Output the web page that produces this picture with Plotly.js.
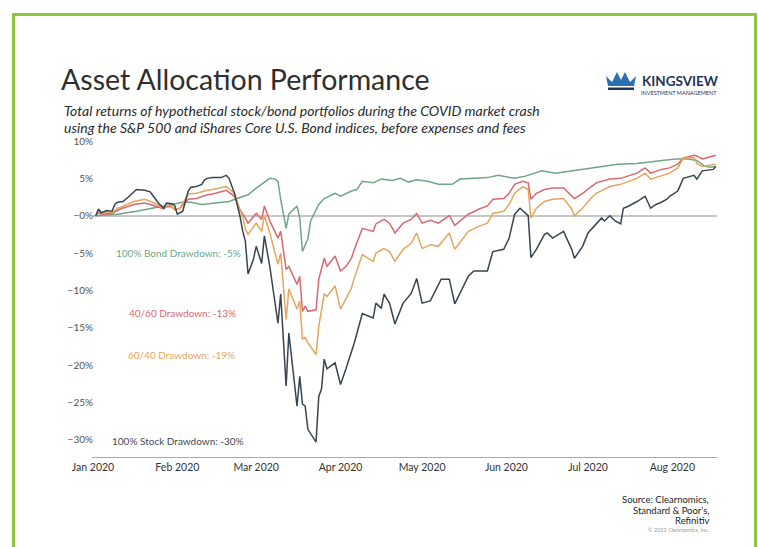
<!DOCTYPE html>
<html>
<head>
<meta charset="utf-8">
<script src="https://cdn.plot.ly/plotly-3.0.1.min.js"></script>
<style>
  html, body { margin: 0; padding: 0; background: #ffffff; }
  #chart { width: 758px; height: 547px; }
</style>
</head>
<body>
<div id="chart"></div>
<script>
// ---------- DATA ----------
const bondDates = ['2020-01-02','2020-01-10','2020-01-17','2020-01-23','2020-01-29','2020-02-03','2020-02-06','2020-02-10','2020-02-15','2020-02-20','2020-02-23','2020-02-27','2020-03-01','2020-03-03','2020-03-06','2020-03-08','2020-03-09','2020-03-10','2020-03-12','2020-03-13','2020-03-16','2020-03-17','2020-03-18','2020-03-20','2020-03-21','2020-03-24','2020-03-26','2020-03-30','2020-04-01','2020-04-05','2020-04-07','2020-04-09','2020-04-13','2020-04-16','2020-04-20','2020-04-23','2020-04-26','2020-04-29','2020-05-03','2020-05-07','2020-05-12','2020-05-15','2020-05-20','2020-05-25','2020-05-29','2020-06-02','2020-06-04','2020-06-08','2020-06-10','2020-06-14','2020-06-19','2020-06-25','2020-07-04','2020-07-12','2020-07-19','2020-07-26','2020-08-02','2020-08-07','2020-08-10','2020-08-13','2020-08-15','2020-08-17'];
const bondValues = [0,0.2,0.6,1.0,1.5,1.8,1.8,1.5,1.7,1.9,2.3,2.8,3.7,4.2,5.0,4.9,4.6,2.2,-1.7,0.2,1.3,-0.3,-4.8,-3.1,-0.7,1.5,2.3,3.0,2.6,3.3,3.5,4.6,4.4,4.9,4.7,5.0,4.5,4.8,4.6,4.2,4.2,4.9,5.0,5.1,5.4,5.2,5.0,5.3,5.5,6.0,5.7,6.0,6.5,6.9,7.0,7.3,7.6,7.6,7.4,6.6,6.5,6.6];

const mixDates = ['2020-01-02','2020-01-03','2020-01-04','2020-01-06','2020-01-08','2020-01-10','2020-01-11','2020-01-16','2020-01-20','2020-01-23','2020-01-25','2020-01-27','2020-01-28','2020-01-30','2020-01-31','2020-02-02','2020-02-05','2020-02-08','2020-02-12','2020-02-14','2020-02-19','2020-02-22','2020-02-24','2020-02-25','2020-02-26','2020-02-27','2020-03-01','2020-03-03','2020-03-04','2020-03-06','2020-03-09','2020-03-10','2020-03-12','2020-03-13','2020-03-16','2020-03-17','2020-03-18','2020-03-19','2020-03-20','2020-03-23','2020-03-24','2020-03-26','2020-03-27','2020-03-30','2020-04-01','2020-04-03','2020-04-05','2020-04-06','2020-04-09','2020-04-13','2020-04-14','2020-04-17','2020-04-19','2020-04-21','2020-04-24','2020-04-27','2020-04-29','2020-05-01','2020-05-04','2020-05-07','2020-05-11','2020-05-13','2020-05-18','2020-05-22','2020-05-25','2020-05-27','2020-05-31','2020-06-02','2020-06-04','2020-06-07','2020-06-09','2020-06-10','2020-06-12','2020-06-15','2020-06-18','2020-06-22','2020-06-24','2020-06-25','2020-06-26','2020-06-29','2020-07-02','2020-07-04','2020-07-09','2020-07-13','2020-07-19','2020-07-22','2020-07-24','2020-07-28','2020-07-31','2020-08-03','2020-08-05','2020-08-09','2020-08-10','2020-08-12','2020-08-14','2020-08-17'];
const mix4060Values = [0,0.4,0.2,0.3,0.3,0.7,0.9,1.5,1.7,1.4,1.2,0.9,1.2,1.2,0.8,1.0,2.2,2.3,2.8,2.9,3.4,2.6,0.8,0.3,-0.3,-1.0,0.3,-0.5,1.3,-0.7,-3.0,-2.1,-7.2,-6.8,-9.2,-8.1,-12.8,-12.1,-12.8,-12.6,-8.5,-5.7,-6.8,-5.4,-7.4,-6.8,-5.7,-4.6,-1.7,-2.1,-1.1,-0.5,-1.0,-2.3,-1.0,-0.5,0.3,-1.0,-0.6,-1.0,0.0,-1.3,0.2,0.9,1.3,2.2,2.3,3.0,4.2,4.6,4.4,2.2,3.0,3.5,3.7,3.7,3.0,2.7,2.3,3.0,3.9,4.4,4.9,5.0,5.7,6.4,5.7,6.2,6.4,6.9,7.7,8.1,8.0,7.6,7.8,8.1];
const mix6040Values = [0,0.6,0.3,0.5,0.4,1.0,1.1,1.9,2.2,1.8,1.4,1.0,1.4,1.3,0.8,1.0,2.9,3.0,3.4,3.5,3.9,3.0,0.8,0.0,-1.8,-2.5,-1.0,-2.1,0.0,-2.3,-6.5,-5.0,-13.9,-9.8,-12.5,-11.4,-16.5,-16.3,-17.0,-18.6,-14.8,-10.5,-10.8,-9.4,-12.5,-11.2,-9.7,-8.4,-5.2,-6.1,-5.0,-4.4,-4.8,-6.1,-4.5,-3.7,-2.3,-4.4,-3.9,-4.1,-2.3,-4.5,-2.1,-1.4,-1.0,0.3,0.6,1.5,3.0,3.9,3.5,-0.3,1.0,1.9,2.2,2.3,1.3,0.9,0.0,1.0,2.3,3.0,3.9,4.2,5.0,5.7,4.9,5.3,5.7,6.4,7.7,7.8,7.0,6.6,6.7,6.9];

const stockDates = ['2020-01-02','2020-01-03','2020-01-04','2020-01-06','2020-01-08','2020-01-09','2020-01-10','2020-01-12','2020-01-14','2020-01-16','2020-01-17','2020-01-20','2020-01-22','2020-01-23','2020-01-25','2020-01-27','2020-01-28','2020-01-30','2020-01-31','2020-02-01','2020-02-03','2020-02-05','2020-02-06','2020-02-08','2020-02-10','2020-02-11','2020-02-12','2020-02-14','2020-02-17','2020-02-19','2020-02-20','2020-02-22','2020-02-24','2020-02-25','2020-02-26','2020-02-27','2020-02-29','2020-03-01','2020-03-03','2020-03-04','2020-03-06','2020-03-09','2020-03-10','2020-03-12','2020-03-13','2020-03-16','2020-03-17','2020-03-18','2020-03-19','2020-03-20','2020-03-23','2020-03-24','2020-03-25','2020-03-26','2020-03-27','2020-03-30','2020-04-01','2020-04-03','2020-04-05','2020-04-06','2020-04-09','2020-04-13','2020-04-14','2020-04-16','2020-04-17','2020-04-19','2020-04-21','2020-04-24','2020-04-27','2020-04-29','2020-05-01','2020-05-04','2020-05-08','2020-05-11','2020-05-13','2020-05-18','2020-05-20','2020-05-25','2020-05-27','2020-05-31','2020-06-02','2020-06-04','2020-06-06','2020-06-09','2020-06-10','2020-06-12','2020-06-15','2020-06-16','2020-06-18','2020-06-22','2020-06-24','2020-06-25','2020-06-26','2020-06-29','2020-07-01','2020-07-04','2020-07-06','2020-07-07','2020-07-09','2020-07-11','2020-07-13','2020-07-14','2020-07-16','2020-07-19','2020-07-22','2020-07-24','2020-07-26','2020-07-28','2020-07-30','2020-07-31','2020-08-03','2020-08-05','2020-08-09','2020-08-10','2020-08-12','2020-08-16','2020-08-17'];
const stockValues = [0,0.9,0.4,0.7,0.6,1.5,1.8,1.9,2.5,3.2,3.5,3.4,3.2,2.7,1.7,1.0,1.7,1.6,1.4,0.2,0.6,3.3,3.8,3.9,4.2,4.8,5.0,5.1,5.1,5.4,5.0,3.0,0.0,-2.0,-3.4,-7.8,-5.8,-4.1,-6.4,-2.7,-6.8,-14.4,-10.5,-22.8,-15.7,-25.5,-21.5,-25.2,-25.5,-28.6,-30.3,-24.2,-23.2,-19.2,-20.5,-19.7,-22.6,-20.5,-18.4,-17.1,-13.1,-13.7,-11.7,-12.4,-10.5,-11.7,-14.5,-11.7,-10.4,-8.4,-11.7,-11.4,-8.5,-8.5,-11.8,-8.1,-7.4,-7.4,-4.8,-4.5,-3.0,0.2,1.0,0.0,-5.6,-4.5,-2.5,-2.3,-3.0,-2.1,-3.7,-4.5,-5.7,-4.1,-2.3,-1.1,-0.3,-0.7,0.0,-0.7,-1.1,1.0,1.3,1.9,2.6,1.0,1.5,1.8,2.2,2.6,3.3,5.0,5.4,4.9,6.0,6.2,6.6];

const yTickVals = [10,5,0,-5,-10,-15,-20,-25,-30];
const yTickText = ['10%','5%','\u22120%','\u22125%','\u221210%','\u221215%','\u221220%','\u221225%','\u221230%'];
const xTickVals = ['2020-01-01','2020-02-01','2020-03-01','2020-04-01','2020-05-01','2020-06-01','2020-07-01','2020-08-01'];
const xTickText = ['Jan 2020','Feb 2020','Mar 2020','Apr 2020','May 2020','Jun 2020','Jul 2020','Aug 2020'];
const subtitleLines = ['Total returns of hypothetical stock/bond portfolios during the COVID market crash',
                       'using the S&amp;P 500 and iShares Core U.S. Bond indices, before expenses and fees'];

// ---------- STYLE ----------
const FONT = 'Lato, "Open Sans", sans-serif';
const C_BOND = '#6fa684', C_4060 = '#d9686f', C_6040 = '#e4a65e', C_STOCK = '#38444f';

// helpers converting pixel positions to paper coordinates (plot area 92..717 x, 141..457 y)
const L = 92, R = 717, T = 141, B = 457;
const px = v => (v - L) / (R - L);
const py = v => (B - v) / (B - T);

const traces = [
  {x: bondDates, y: bondValues, name: '100% Bond', mode: 'lines', line: {color: C_BOND, width: 1.5}},
  {x: mixDates, y: mix4060Values, name: '40/60', mode: 'lines', line: {color: C_4060, width: 1.5}},
  {x: mixDates, y: mix6040Values, name: '60/40', mode: 'lines', line: {color: C_6040, width: 1.5}},
  {x: stockDates, y: stockValues, name: '100% Stock', mode: 'lines', line: {color: C_STOCK, width: 1.5}}
];

const crown = 'M ' + [[606,76],[612,82],[617,72],[621,80],[625,72],[630,82],[636,76],[634,86],[608,86]]
  .map(p => px(p[0]) + ',' + py(p[1])).join(' L ') + ' Z';
const band = 'M ' + [[608,87.5],[634,87.5],[634,90],[608,90]].map(p => px(p[0]) + ',' + py(p[1])).join(' L ') + ' Z';

const layout = {
  width: 758, height: 547,
  margin: {l: L, r: 758 - R, t: T, b: 547 - B, pad: 0},
  paper_bgcolor: '#ffffff', plot_bgcolor: '#ffffff',
  showlegend: false,
  font: {family: FONT, color: '#333'},
  title: {
    text: 'Asset Allocation Performance',
    font: {family: FONT, size: 28.5, color: '#2e2e2e', weight: 400},
    xref: 'container', yref: 'container', x: 61 / 758, xanchor: 'left', y: 1 - 80 / 547, yanchor: 'middle'
  },
  xaxis: {
    type: 'date',
    range: ['2019-12-31 15:00', '2020-08-17 10:00'],
    tickvals: xTickVals, ticktext: xTickText,
    showgrid: false, zeroline: false,
    showline: true, linecolor: '#a8a8a8', linewidth: 1,
    ticks: '', tickfont: {family: FONT, size: 10.5, color: '#333'}
  },
  yaxis: {
    range: [-32.3, 10],
    tickvals: yTickVals, ticktext: yTickText,
    showgrid: false, showline: false,
    zeroline: true, zerolinecolor: '#c6c6c6', zerolinewidth: 2,
    ticks: '', ticklabelstandoff: -2, tickfont: {family: FONT, size: 10, color: '#555'}
  },
  annotations: [
    {xref: 'paper', yref: 'paper', x: px(62), y: py(110.5), xanchor: 'left', yanchor: 'middle', align: 'left', showarrow: false,
     text: '<i>' + subtitleLines[0] + '</i>', font: {family: FONT, size: 14, color: '#2a2a2a'}},
    {xref: 'paper', yref: 'paper', x: px(62), y: py(127.5), xanchor: 'left', yanchor: 'middle', align: 'left', showarrow: false,
     text: '<i>' + subtitleLines[1] + '</i>', font: {family: FONT, size: 14, color: '#2a2a2a'}},
    {xref: 'paper', yref: 'paper', x: px(640), y: py(81), xanchor: 'left', yanchor: 'middle', showarrow: false,
     text: '<b>KINGSVIEW</b>', font: {family: FONT, size: 13.5, color: '#1e3559'}},
    {xref: 'paper', yref: 'paper', x: px(679), y: py(92.5), xanchor: 'center', yanchor: 'middle', showarrow: false,
     text: 'INVESTMENT MANAGEMENT', font: {family: FONT, size: 5.5, color: '#1e3559'}},
    {xref: 'paper', yref: 'paper', x: px(178), y: py(253), xanchor: 'center', yanchor: 'middle', showarrow: false,
     text: '100% Bond Drawdown: -5%', font: {family: FONT, size: 10, color: C_BOND}},
    {xref: 'paper', yref: 'paper', x: px(182), y: py(313), xanchor: 'center', yanchor: 'middle', showarrow: false,
     text: '40/60 Drawdown: -13%', font: {family: FONT, size: 10, color: C_4060}},
    {xref: 'paper', yref: 'paper', x: px(181), y: py(355), xanchor: 'center', yanchor: 'middle', showarrow: false,
     text: '60/40 Drawdown: -19%', font: {family: FONT, size: 10, color: C_6040}},
    {xref: 'paper', yref: 'paper', x: px(177.5), y: py(441), xanchor: 'center', yanchor: 'middle', showarrow: false,
     text: '100% Stock Drawdown: -30%', font: {family: FONT, size: 10, color: '#3f4a55'}},
    {xref: 'paper', yref: 'paper', x: px(711), y: py(499.5), xanchor: 'right', yanchor: 'middle', showarrow: false,
     text: 'Source: Clearnomics,', font: {family: FONT, size: 9.5, color: '#222'}},
    {xref: 'paper', yref: 'paper', x: px(711), y: py(510), xanchor: 'right', yanchor: 'middle', showarrow: false,
     text: 'Standard &amp; Poor\u2019s,', font: {family: FONT, size: 9.5, color: '#222'}},
    {xref: 'paper', yref: 'paper', x: px(711), y: py(520), xanchor: 'right', yanchor: 'middle', showarrow: false,
     text: 'Refinitiv', font: {family: FONT, size: 9.5, color: '#222'}},
    {xref: 'paper', yref: 'paper', x: px(711), y: py(529.5), xanchor: 'right', yanchor: 'middle', showarrow: false,
     text: '\u00a9 2021 Clearnomics, Inc.', font: {family: FONT, size: 5.5, color: '#999'}}
  ],
  shapes: [
    {type: 'rect', xref: 'paper', yref: 'paper', x0: px(13.5), x1: px(755.5), y0: py(570), y1: py(14.5),
     line: {color: '#8dc63f', width: 3}, fillcolor: 'rgba(0,0,0,0)', layer: 'below'},
    {type: 'path', xref: 'paper', yref: 'paper', path: crown, fillcolor: '#2d6fb3', line: {width: 0}},
    {type: 'path', xref: 'paper', yref: 'paper', path: band, fillcolor: '#1e3559', line: {width: 0}}
  ]
};

Plotly.newPlot('chart', traces, layout, {displayModeBar: false, staticPlot: true});
</script>
</body>
</html>
